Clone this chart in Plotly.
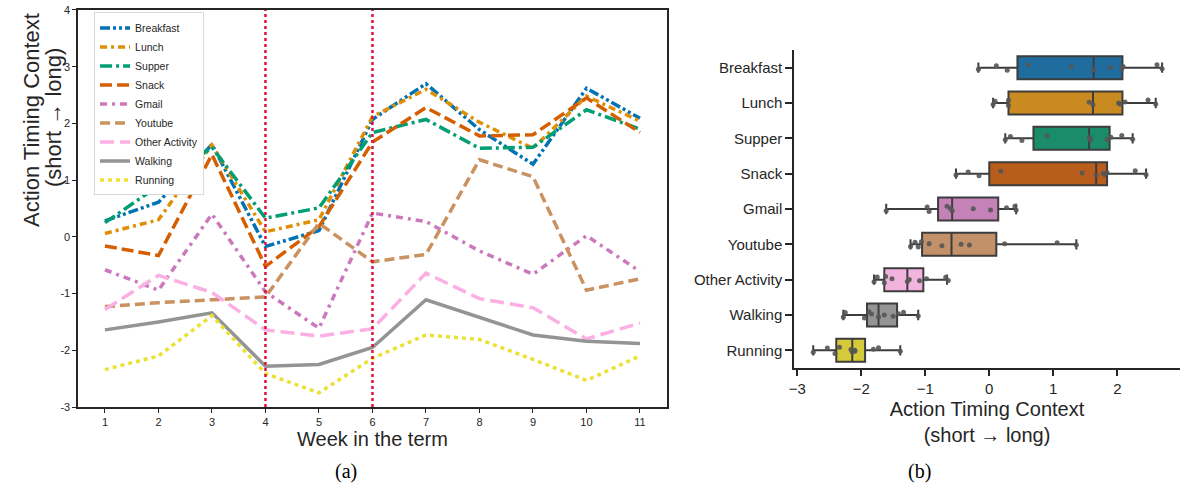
import plotly.graph_objects as go

# ---------------- data ----------------
weeks = list(range(1, 12))
term_markers = [4, 6]

breakfast = [0.28, 0.61, 1.63, -0.17, 0.11, 2.07, 2.70, 1.89, 1.28, 2.62, 2.09]
lunch = [0.06, 0.30, 1.62, 0.09, 0.30, 2.12, 2.60, 2.02, 1.56, 2.48, 2.04]
supper = [0.25, 0.90, 1.58, 0.33, 0.51, 1.84, 2.07, 1.56, 1.58, 2.24, 1.90]
snack = [-0.16, -0.33, 1.45, -0.52, 0.18, 1.67, 2.28, 1.78, 1.80, 2.45, 1.84]
gmail = [-0.58, -0.94, 0.40, -0.97, -1.61, 0.42, 0.27, -0.25, -0.66, 0.02, -0.61]
youtube = [-1.23, -1.16, -1.11, -1.06, 0.24, -0.44, -0.31, 1.36, 1.06, -0.94, -0.74]
other_activity = [-1.28, -0.68, -0.98, -1.64, -1.75, -1.62, -0.64, -1.09, -1.25, -1.80, -1.52]
walking = [-1.64, -1.50, -1.34, -2.28, -2.25, -1.95, -1.11, -1.42, -1.73, -1.84, -1.88]
running = [-2.34, -2.10, -1.39, -2.41, -2.75, -2.14, -1.73, -1.81, -2.16, -2.53, -2.10]

categories = ["Breakfast", "Lunch", "Supper", "Snack", "Gmail", "Youtube",
              "Other Activity", "Walking", "Running"]
series = [breakfast, lunch, supper, snack, gmail, youtube, other_activity, walking, running]

# box statistics (right panel)
box_lowerfence = [-0.17, 0.06, 0.25, -0.52, -1.61, -1.23, -1.80, -2.28, -2.75]
box_q1 = [0.44, 0.30, 0.69, 0.00, -0.80, -1.05, -1.64, -1.91, -2.39]
box_median = [1.63, 1.62, 1.56, 1.67, -0.58, -0.59, -1.28, -1.73, -2.14]
box_q3 = [2.08, 2.08, 1.88, 1.84, 0.14, 0.11, -1.03, -1.44, -1.94]
box_upperfence = [2.70, 2.60, 2.24, 2.45, 0.42, 1.36, -0.66, -1.11, -1.39]

# ---------------- styles ----------------
line_colors = ["#0173b2", "#de8f05", "#029e73", "#d55e00", "#cc78bc",
               "#ca9161", "#fbafe4", "#949494", "#ece133"]
box_colors = ["#1f6d9e", "#c98b1f", "#1b8c6a", "#b95d1c", "#c582b8",
              "#c29169", "#f2b3de", "#949494", "#d4ca3a"]
line_dashes = ["10px,3px,3px,3px,3px,3px", "7px,4px,3px,4px", "12px,4px,3px,4px",
               "12px,5px", "7px,5px,3px,5px", "10px,5px", "14px,6px", "solid", "4px,4px"]

FONT = "Liberation Sans, Arial, sans-serif"
SERIF = "Liberation Serif, Times New Roman, serif"
AX = "#262626"

fig = go.Figure()

for name, vals, col, dash in zip(categories, series, line_colors, line_dashes):
    fig.add_trace(go.Scatter(
        x=weeks, y=vals, mode="lines", name=name,
        line=dict(color=col, dash=dash, width=3.5),
        xaxis="x", yaxis="y"))

positions = list(range(len(categories)))
for i, name in enumerate(categories):
    fig.add_trace(go.Box(
        y=[positions[i]], q1=[box_q1[i]], median=[box_median[i]], q3=[box_q3[i]],
        lowerfence=[box_lowerfence[i]], upperfence=[box_upperfence[i]],
        orientation="h", fillcolor=box_colors[i],
        line=dict(color="#3d3d3d", width=2), whiskerwidth=0.45, width=0.65,
        showlegend=False, hoverinfo="skip", xaxis="x2", yaxis="y2"))
for i, name in enumerate(categories):
    fig.add_trace(go.Box(
        x=series[i], y=[positions[i]] * len(series[i]), orientation="h",
        boxpoints="all", jitter=0.35, pointpos=0,
        fillcolor="rgba(0,0,0,0)", line=dict(color="rgba(0,0,0,0)", width=0),
        marker=dict(color="#555555", size=5, opacity=0.9), width=0.65,
        whiskerwidth=0, showlegend=False, hoverinfo="skip", xaxis="x2", yaxis="y2"))

shapes = []
for w in term_markers:
    shapes.append(dict(type="line", xref="x", yref="y domain", x0=w, x1=w, y0=0, y1=1,
                       line=dict(color="#dc143c", dash="dot", width=2.5), layer="above"))

fig.update_layout(
    width=1183, height=498, autosize=False,
    margin=dict(l=0, r=0, t=0, b=0),
    paper_bgcolor="white", plot_bgcolor="white",
    font=dict(family=FONT, color=AX),
    showlegend=True, boxmode="overlay",
    legend=dict(x=0.0795, y=0.975, xanchor="left", yanchor="top",
                bgcolor="white", bordercolor="#d9d9d9", borderwidth=1,
                font=dict(size=10.5, family=FONT), itemwidth=30,
                tracegroupgap=0),
    xaxis=dict(domain=[0.0661, 0.5636], range=[0.5, 11.5], tickvals=weeks,
               ticks="outside", ticklen=4, tickcolor=AX, showline=True, linecolor=AX,
               linewidth=1.5, mirror=True, showgrid=False, zeroline=False,
               tickfont=dict(size=11), automargin=False,
               title=dict(text="Week in the term", font=dict(size=20), standoff=4)),
    yaxis=dict(domain=[0.1827, 0.98], range=[-3, 4], tickvals=list(range(-3, 5)),
               ticktext=[str(v) for v in range(-3, 5)], ticklabeloverflow="allow",
               ticks="outside", ticklen=4, tickcolor=AX, showline=True, linecolor=AX,
               linewidth=1.5, mirror=True, showgrid=False, zeroline=False,
               tickfont=dict(size=11), automargin=False),
    xaxis2=dict(domain=[0.6712, 0.9975], range=[-3.05, 2.98], anchor="y2",
                tickvals=[-3, -2, -1, 0, 1, 2], ticks="outside", ticklen=6,
                tickcolor=AX, tickwidth=1.5, showline=True, linecolor=AX, linewidth=1.5,
                showgrid=False, zeroline=False, tickfont=dict(size=15), automargin=False,
                title=dict(text="Action Timing Context<br>(short \u2192 long)",
                           font=dict(size=20), standoff=6)),
    yaxis2=dict(domain=[0.261, 0.8996], range=[8.5, -0.5], anchor="x2",
                tickvals=positions, ticktext=categories, ticks="outside", ticklen=7,
                tickcolor=AX, tickwidth=1.5, showline=True, linecolor=AX, linewidth=1.5,
                showgrid=False, zeroline=False, tickfont=dict(size=15), automargin=False),
    shapes=shapes,
    annotations=[
        dict(text="Action Timing Context", textangle=-90,
             x=31 / 1183, y=0.759, xref="paper", yref="paper", showarrow=False,
             xanchor="center", yanchor="middle",
             font=dict(family=FONT, size=22, color=AX)),
        dict(text="(short \u2192 long)", textangle=-90,
             x=53 / 1183, y=0.763, xref="paper", yref="paper", showarrow=False,
             xanchor="center", yanchor="middle",
             font=dict(family=FONT, size=22, color=AX)),
        dict(text="(a)", x=0.2815, y=0.026, xref="paper", yref="paper", showarrow=False,
             font=dict(family=SERIF, size=20, color="black")),
        dict(text="(b)", x=0.7887, y=0.026, xref="paper", yref="paper", showarrow=False,
             font=dict(family=SERIF, size=20, color="black")),
    ],
)

fig.write_html("out.html", config={"displayModeBar": False},
               post_script="document.body.style.margin='0';document.body.style.overflow='hidden';")
